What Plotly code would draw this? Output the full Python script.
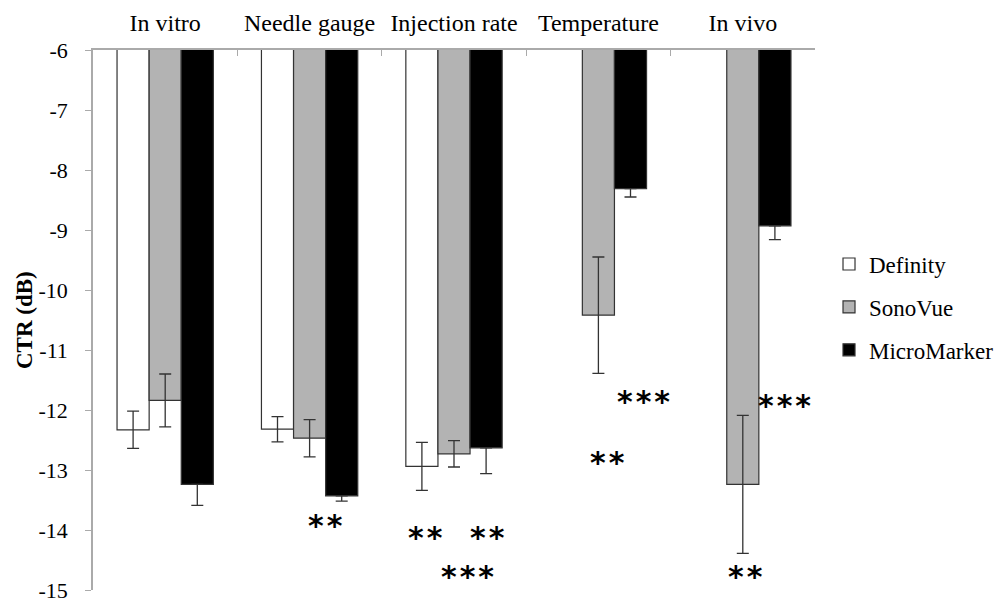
import plotly.graph_objects as go

categories = ["In vitro", "Needle gauge", "Injection rate", "Temperature", "In vivo"]
series_names = ["Definity", "SonoVue", "MicroMarker"]
definity = [-12.33, -12.32, -12.94, None, None]
definity_err = [0.31, 0.21, 0.40, None, None]
sonovue = [-11.84, -12.47, -12.73, -10.42, -13.24]
sonovue_err = [0.44, 0.31, 0.22, 0.97, 1.15]
micromarker = [-13.24, -13.43, -12.63, -8.31, -8.93]
micromarker_err = [0.35, 0.09, 0.43, 0.14, 0.23]

# significance markers (category position, y value, text)
sig_x = [1.11, 1.80, 2.235, 2.09, 3.31, 3.066, 4.29, 4.02]
sig_y = [-13.92, -14.12, -14.12, -14.77, -11.85, -12.87, -11.93, -14.78]
sig_text = ["**", "**", "**", "***", "***", "**", "***", "**"]

y_ticks = [-6, -7, -8, -9, -10, -11, -12, -13, -14, -15]
y_ticktext = ["-6", "-7", "-8", "-9", "-10", "-11", "-12", "-13", "-14", "-15"]

fills = ["#ffffff", "#b3b3b3", "#000000"]
values = [definity, sonovue, micromarker]
errs = [definity_err, sonovue_err, micromarker_err]
# the upper half of MicroMarker's error bars is hidden inside the black bar
hide_upper = [False, False, True]

serif = "Liberation Serif"
fig = go.Figure()
for name, vals, err, col, hide in zip(series_names, values, errs, fills, hide_upper):
    if hide:
        ey = dict(type="data", symmetric=False, array=[0 if e is not None else None for e in err],
                  arrayminus=err, visible=True, color="#333333", thickness=1.3, width=6)
    else:
        ey = dict(type="data", array=err, visible=True, color="#333333", thickness=1.3, width=6)
    fig.add_trace(go.Bar(
        x=categories, y=vals, name=name, legendgroup=name,
        marker=dict(color=col, line=dict(color="#333333", width=1.2)),
        error_y=ey,
    ))

for xv, yv, t in zip(sig_x, sig_y, sig_text):
    fig.add_annotation(x=xv, y=yv, xref="x", yref="y", text="&#8202;".join(t), showarrow=False,
                       font=dict(family="DejaVu Sans", size=30, color="#000", weight="bold"))

fig.add_annotation(x=(24 - 93) / 722, y=0.5, xref="paper", yref="paper", text="<b>CTR (dB)</b>",
                   textangle=-90, showarrow=False, xanchor="center", yanchor="middle",
                   font=dict(family=serif, size=23, color="#000"))

# page body has an 8px default margin; figure size / margins compensate so the
# plot area lands at x 93-815, y 50-590 of the window (extra width on the right
# gives the legend room without shrinking the plot)
fig.update_layout(
    width=1050, height=597,
    margin=dict(l=85, r=243, t=42, b=15),
    paper_bgcolor="white", plot_bgcolor="white",
    barmode="group", bargap=0.333, bargroupgap=0,
    font=dict(family=serif, size=22, color="#000"),
    showlegend=True,
    legend=dict(x=1.0194, y=0.524, xanchor="left", yanchor="middle",
                font=dict(family=serif, size=23), tracegroupgap=10,
                itemwidth=30, bgcolor="rgba(0,0,0,0)"),
    xaxis=dict(side="top", type="category", showline=True, linecolor="#aaaaaa", linewidth=1.5,
               ticks="inside", ticklen=6, tickcolor="#aaaaaa", tickson="boundaries",
               showgrid=False, automargin=False, tickfont=dict(family=serif, size=24),
               tickangle=0, ticklabelstandoff=8),
    yaxis=dict(range=[-15, -6], tickvals=y_ticks, ticktext=y_ticktext, showline=True,
               linecolor="#aaaaaa", linewidth=1.5, ticks="outside", ticklen=6, tickcolor="#aaaaaa",
               showgrid=False, zeroline=False, automargin=False,
               tickfont=dict(family=serif, size=22), ticklabelstandoff=13),
)

fig.write_html("out.html")
